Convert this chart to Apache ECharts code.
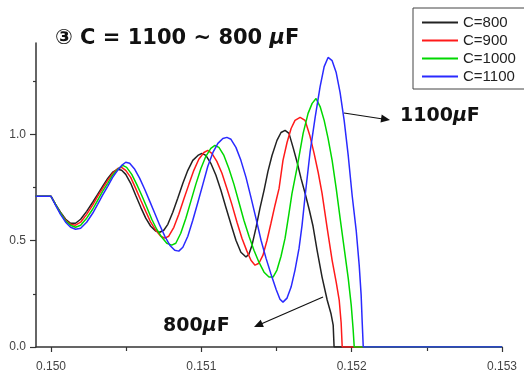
<!DOCTYPE html>
<html>
<head>
<meta charset="utf-8">
<script src="https://cdn.jsdelivr.net/npm/echarts@6/dist/echarts.min.js"></script>
<style>
html,body{margin:0;padding:0;background:#fff}
#chart{width:524px;height:378px}
</style>
</head>
<body>
<div id="chart"></div>
<script>
// Series names (capacitance in µF)
const seriesNames = ['C=800', 'C=900', 'C=1000', 'C=1100'];

// [time (s), voltage (pu)] samples for each capacitance
const c800 = [
  [0.149897,0.709],[0.150000,0.709],[0.150030,0.671],[0.150063,0.634],[0.150097,0.601],[0.150130,0.582],
  [0.150163,0.582],[0.150197,0.601],[0.150237,0.638],[0.150277,0.681],[0.150310,0.718],[0.150343,0.756],
  [0.150377,0.793],[0.150410,0.822],[0.150443,0.836],[0.150470,0.831],[0.150497,0.812],[0.150530,0.770],
  [0.150563,0.714],[0.150597,0.657],[0.150630,0.606],[0.150663,0.568],[0.150697,0.545],[0.150723,0.540],
  [0.150750,0.549],[0.150777,0.577],[0.150810,0.634],[0.150843,0.700],[0.150877,0.770],[0.150910,0.831],
  [0.150943,0.878],[0.150977,0.901],[0.151003,0.911],[0.151030,0.901],[0.151063,0.864],[0.151097,0.808],
  [0.151130,0.737],[0.151163,0.657],[0.151197,0.577],[0.151230,0.502],[0.151263,0.446],[0.151297,0.423],
  [0.151317,0.437],[0.151337,0.479],[0.151363,0.559],[0.151390,0.653],[0.151417,0.737],[0.151443,0.826],
  [0.151470,0.901],[0.151503,0.972],[0.151530,1.009],[0.151557,1.019],[0.151583,1.005],[0.151610,0.939],
  [0.151637,0.869],[0.151663,0.793],[0.151690,0.723],[0.151717,0.648],[0.151743,0.568],[0.151770,0.455],
  [0.151803,0.329],[0.151837,0.221],[0.151863,0.155],[0.151877,0.103],[0.151883,0],[0.153000,0]
];
const c900 = [
  [0.149897,0.709],[0.150000,0.709],[0.150030,0.671],[0.150063,0.629],[0.150097,0.596],[0.150130,0.577],
  [0.150163,0.573],[0.150197,0.587],[0.150237,0.624],[0.150277,0.667],[0.150310,0.709],[0.150343,0.746],
  [0.150377,0.784],[0.150410,0.817],[0.150443,0.840],[0.150470,0.845],[0.150497,0.831],[0.150530,0.798],
  [0.150563,0.746],[0.150597,0.690],[0.150630,0.638],[0.150663,0.587],[0.150697,0.549],[0.150730,0.521],
  [0.150757,0.512],[0.150783,0.521],[0.150817,0.563],[0.150850,0.624],[0.150883,0.695],[0.150917,0.765],
  [0.150950,0.831],[0.150983,0.883],[0.151017,0.915],[0.151043,0.925],[0.151070,0.911],[0.151103,0.873],
  [0.151137,0.817],[0.151170,0.746],[0.151203,0.671],[0.151237,0.587],[0.151270,0.512],[0.151303,0.451],
  [0.151330,0.408],[0.151357,0.385],[0.151383,0.394],[0.151410,0.432],[0.151437,0.502],[0.151463,0.582],
  [0.151490,0.667],[0.151517,0.746],[0.151543,0.878],[0.151570,0.962],[0.151597,1.028],[0.151623,1.066],
  [0.151657,1.080],[0.151690,1.066],[0.151723,0.991],[0.151750,0.911],[0.151777,0.822],[0.151803,0.723],
  [0.151837,0.559],[0.151870,0.408],[0.151897,0.305],[0.151917,0.221],[0.151930,0.113],[0.151937,0],
  [0.153000,0]
];
const c1000 = [
  [0.149897,0.709],[0.150000,0.709],[0.150030,0.671],[0.150063,0.629],[0.150097,0.592],[0.150130,0.573],
  [0.150163,0.563],[0.150197,0.573],[0.150237,0.606],[0.150277,0.648],[0.150310,0.690],[0.150343,0.732],
  [0.150377,0.770],[0.150410,0.808],[0.150443,0.836],[0.150477,0.854],[0.150503,0.845],[0.150537,0.812],
  [0.150570,0.765],[0.150603,0.714],[0.150637,0.657],[0.150670,0.601],[0.150703,0.554],[0.150737,0.516],
  [0.150770,0.488],[0.150803,0.479],[0.150830,0.488],[0.150863,0.535],[0.150897,0.606],[0.150930,0.685],
  [0.150963,0.765],[0.150997,0.840],[0.151030,0.897],[0.151063,0.934],[0.151090,0.948],[0.151117,0.939],
  [0.151150,0.901],[0.151183,0.840],[0.151217,0.765],[0.151250,0.681],[0.151283,0.596],[0.151317,0.521],
  [0.151350,0.455],[0.151383,0.399],[0.151417,0.352],[0.151450,0.329],[0.151477,0.329],[0.151503,0.362],
  [0.151530,0.427],[0.151557,0.512],[0.151583,0.629],[0.151603,0.723],[0.151637,0.845],[0.151677,1.005],
  [0.151710,1.099],[0.151737,1.146],[0.151763,1.169],[0.151790,1.131],[0.151817,1.066],[0.151843,0.981],
  [0.151870,0.878],[0.151897,0.746],[0.151923,0.606],[0.151950,0.465],[0.151977,0.324],[0.151997,0.197],
  [0.152010,0.080],[0.152017,0],[0.153000,0]
];
const c1100 = [
  [0.149897,0.709],[0.150000,0.709],[0.150030,0.667],[0.150063,0.624],[0.150097,0.587],[0.150130,0.563],
  [0.150163,0.554],[0.150197,0.559],[0.150237,0.587],[0.150277,0.629],[0.150310,0.671],[0.150343,0.714],
  [0.150377,0.756],[0.150410,0.798],[0.150443,0.831],[0.150470,0.854],[0.150497,0.869],[0.150523,0.864],
  [0.150557,0.836],[0.150590,0.793],[0.150623,0.742],[0.150657,0.685],[0.150690,0.629],[0.150723,0.573],
  [0.150757,0.521],[0.150790,0.479],[0.150823,0.455],[0.150850,0.451],[0.150877,0.469],[0.150910,0.521],
  [0.150943,0.596],[0.150977,0.681],[0.151010,0.765],[0.151043,0.850],[0.151077,0.915],[0.151110,0.958],
  [0.151143,0.981],[0.151170,0.986],[0.151197,0.977],[0.151230,0.939],[0.151263,0.878],[0.151297,0.798],
  [0.151330,0.704],[0.151363,0.606],[0.151397,0.502],[0.151430,0.418],[0.151463,0.343],[0.151497,0.272],
  [0.151523,0.225],[0.151543,0.211],[0.151570,0.230],[0.151597,0.282],[0.151623,0.362],[0.151650,0.465],
  [0.151670,0.573],[0.151690,0.709],[0.151723,0.915],[0.151757,1.080],[0.151790,1.225],[0.151817,1.319],
  [0.151843,1.362],[0.151870,1.347],[0.151897,1.291],[0.151923,1.197],[0.151950,1.066],[0.151977,0.901],
  [0.152003,0.714],[0.152030,0.549],[0.152050,0.385],[0.152063,0.244],[0.152070,0.117],[0.152077,0],
  [0.153000,0]
];

// Axis ticks
const xTicks = [0.150, 0.151, 0.152, 0.153];
const xMinorTicks = [0.1505, 0.1515, 0.1525];
const yTicks = [0, 0.5, 1.0];
const yMinorTicks = [0.25, 0.75, 1.25];

const seriesData = [c800, c900, c1000, c1100];
const seriesColors = ['#222222', '#ff1a1a', '#00d800', '#2a2aff'];

const axisColor = '#333';
const labelFont = 'Liberation Sans, Arial, sans-serif';
const boldFont = 'DejaVu Sans, sans-serif';

const chart = echarts.init(document.getElementById('chart'), null, { renderer: 'canvas' });

const xRange = { min: 0.1499, max: 0.153 };
const yRange = { min: 0, max: 1.43 };

// bold label with an italic µ before the unit
function unitText(prefix, size) {
  const base = { fontSize: size, fontWeight: 'bold', fontFamily: boldFont, fill: '#111' };
  return {
    text: '{a|' + prefix + '}{i|μ}{a|F}',
    rich: { a: base, i: Object.assign({}, base, { fontStyle: 'italic' }) }
  };
}

chart.setOption({
  animation: false,
  backgroundColor: '#fff',
  grid: { left: 36, right: 22, top: 43, bottom: 31 },
  xAxis: [
    {
      type: 'value', ...xRange,
      axisLine: { onZero: false, lineStyle: { color: axisColor, width: 1.5 } },
      axisTick: { customValues: xTicks, length: 5, lineStyle: { color: axisColor, width: 1.2 } },
      axisLabel: { customValues: xTicks, formatter: v => v.toFixed(3), color: '#444', fontSize: 12, fontFamily: labelFont, margin: 14 },
      splitLine: { show: false }
    },
    {
      type: 'value', ...xRange, position: 'bottom',
      axisLine: { show: false },
      axisTick: { customValues: xMinorTicks, length: 4, lineStyle: { color: axisColor, width: 1.2 } },
      axisLabel: { show: false },
      splitLine: { show: false }
    }
  ],
  yAxis: [
    {
      type: 'value', ...yRange,
      axisLine: { show: true, lineStyle: { color: axisColor, width: 1.5 } },
      axisTick: { show: true, customValues: yTicks, length: 6, lineStyle: { color: axisColor, width: 1.2 } },
      axisLabel: { customValues: yTicks, formatter: v => v.toFixed(1), color: '#444', fontSize: 12, fontFamily: labelFont, margin: 10 },
      splitLine: { show: false }
    },
    {
      type: 'value', ...yRange, position: 'left',
      axisLine: { show: false },
      axisTick: { show: true, customValues: yMinorTicks, length: 3, lineStyle: { color: axisColor, width: 1.2 } },
      axisLabel: { show: false },
      splitLine: { show: false }
    }
  ],
  legend: {
    orient: 'vertical', left: 413, top: 8,
    padding: [6, 14, 4, 8], itemGap: 1, itemWidth: 36, itemHeight: 2,
    borderColor: '#444', borderWidth: 1, backgroundColor: '#fff',
    itemStyle: { opacity: 0 },
    textStyle: { fontSize: 15, lineHeight: 17, fontFamily: labelFont, color: '#222' },
    data: seriesNames
  },
  series: seriesNames.map((name, i) => ({
    name, type: 'line', xAxisIndex: 0, yAxisIndex: 0,
    data: seriesData[i], showSymbol: false, symbol: 'none',
    lineStyle: { color: seriesColors[i], width: 1.5 },
    itemStyle: { color: seriesColors[i] },
    z: 2 + i
  })),
  graphic: [
    { type: 'text', left: 55, top: 28, z: 10, style: unitText('③ C = 1100 ~ 800 ', 21) },
    { type: 'text', left: 400, top: 107, z: 10, style: unitText('1100', 19) },
    { type: 'text', left: 163, top: 317, z: 10, style: unitText('800', 19) },
    // arrow toward the 1100 µF label
    { type: 'line', z: 10, shape: { x1: 344, y1: 113, x2: 383, y2: 119 }, style: { stroke: '#111', lineWidth: 1.2 } },
    { type: 'polygon', z: 10, shape: { points: [[390, 120], [380.5, 122.6], [381.7, 114.6]] }, style: { fill: '#111' } },
    // arrow toward the 800 µF label
    { type: 'line', z: 10, shape: { x1: 323, y1: 297, x2: 261, y2: 324 }, style: { stroke: '#111', lineWidth: 1.2 } },
    { type: 'polygon', z: 10, shape: { points: [[254, 327], [260.7, 319.7], [263.9, 327.1]] }, style: { fill: '#111' } }
  ]
});
</script>
</body>
</html>
